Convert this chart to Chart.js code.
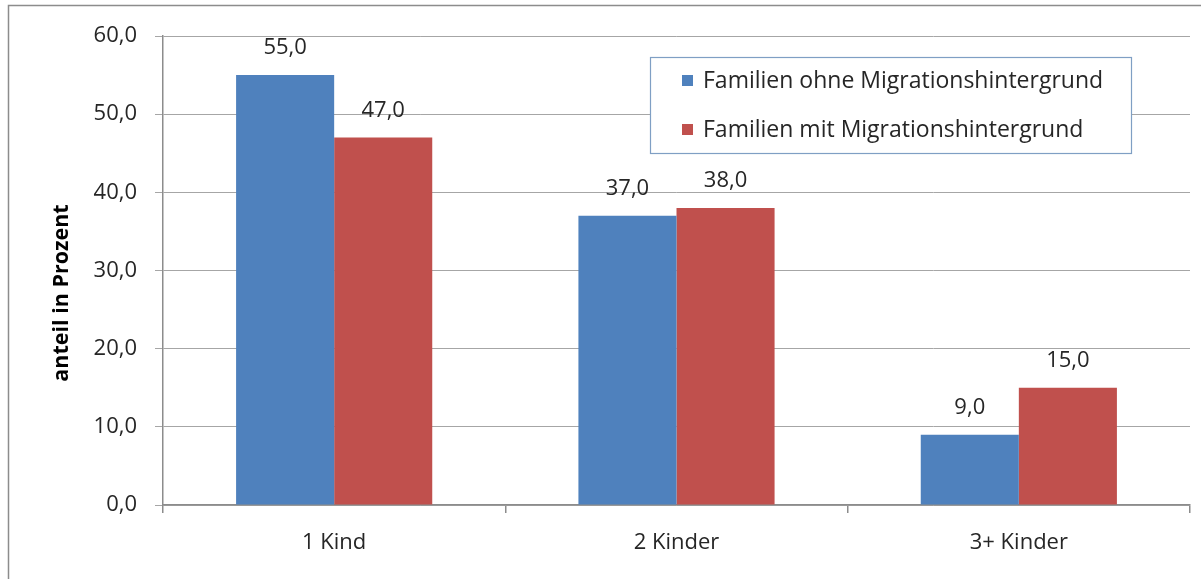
<!DOCTYPE html>
<html><head><meta charset="utf-8">
<script src="https://cdn.jsdelivr.net/npm/chart.js@4"></script>
<style>html,body{margin:0;padding:0;background:#fff;}#wrap{width:1201px;height:579px;position:relative;}</style>
</head><body><div id="wrap"><canvas id="c" width="1201" height="579"></canvas></div>
<script>
const categories = ["1 Kind", "2 Kinder", "3+ Kinder"];
const seriesOhne = [55.0, 37.0, 9.0];
const seriesMit = [47.0, 38.0, 15.0];
const seriesNames = ["Familien ohne Migrationshintergrund", "Familien mit Migrationshintergrund"];
const yTitle = "anteil in Prozent";
const FONT = "'Open Sans', sans-serif";
const fmt = v => v.toFixed(1).replace('.', ',');

const decor = {
  id: 'decor',
  beforeDraw(chart) {
    const ctx = chart.ctx;
    ctx.save();
    ctx.fillStyle = '#fff';
    ctx.fillRect(0, 0, chart.width, chart.height);
    ctx.strokeStyle = '#8c8c8c';
    ctx.lineWidth = 1.5;
    ctx.beginPath();
    ctx.moveTo(8.5, 579); ctx.lineTo(8.5, 5.5); ctx.lineTo(1201, 5.5);
    ctx.stroke();
    ctx.restore();
  },
  afterDraw(chart) {
    const ctx = chart.ctx;
    ctx.save();
    ctx.fillStyle = '#262626';
    ctx.font = "22px " + FONT;
    ctx.textAlign = 'center';
    ctx.textBaseline = 'middle';
    chart.data.datasets.forEach((ds, i) => {
      chart.getDatasetMeta(i).data.forEach((bar, j) => {
        ctx.fillText(fmt(ds.data[j]), bar.x, bar.y - 27);
      });
    });
    ctx.font = "bold 21.5px " + FONT;
    ctx.translate(62, 293);
    ctx.rotate(-Math.PI / 2);
    ctx.fillStyle = '#000';
    ctx.fillText(yTitle, 0, 0);
    ctx.restore();
    ctx.save();
    ctx.fillStyle = '#fff';
    ctx.fillRect(650, 57, 481, 96);
    ctx.strokeStyle = '#7f9fc4';
    ctx.lineWidth = 1.2;
    ctx.strokeRect(650.5, 57.5, 481, 96);
    ctx.font = "23px " + FONT;
    ctx.textAlign = 'left';
    ctx.textBaseline = 'middle';
    const ys = [80, 129];
    chart.data.datasets.forEach((ds, i) => {
      ctx.fillStyle = ds.backgroundColor;
      ctx.fillRect(682, ys[i] - 5, 11, 11);
      ctx.fillStyle = '#262626';
      ctx.fillText(ds.label, 703, ys[i] + 1);
    });
    ctx.restore();
  }
};

new Chart(document.getElementById('c'), {
  type: 'bar',
  data: {
    labels: categories,
    datasets: [
      { label: seriesNames[0], data: seriesOhne, backgroundColor: '#4F81BD' },
      { label: seriesNames[1], data: seriesMit, backgroundColor: '#C0504D' }
    ]
  },
  options: {
    responsive: false,
    animation: false,
    devicePixelRatio: 1,
    layout: { padding: { left: 0, right: 11, top: 36, bottom: 0 } },
    categoryPercentage: 0.573,
    barPercentage: 1,
    plugins: { legend: { display: false }, tooltip: { enabled: false } },
    scales: {
      x: {
        afterFit(s) { s.height = 74; },
        grid: { offset: true, drawOnChartArea: false, drawTicks: true, tickLength: 8, color: '#8c8c8c', lineWidth: 1.5 },
        border: { color: '#8c8c8c', width: 1.5 },
        ticks: { color: '#262626', font: { size: 22, family: FONT }, padding: 17 }
      },
      y: {
        min: 0, max: 60,
        afterFit(s) { s.width = 163; },
        grid: { color: '#a6a6a6', lineWidth: 1, tickLength: 8, drawTicks: true },
        border: { color: '#8c8c8c', width: 1.5 },
        ticks: { stepSize: 10, color: '#262626', font: { size: 22, family: FONT }, padding: 18, callback: v => fmt(v) }
      }
    }
  },
  plugins: [decor]
});
</script></body></html>
